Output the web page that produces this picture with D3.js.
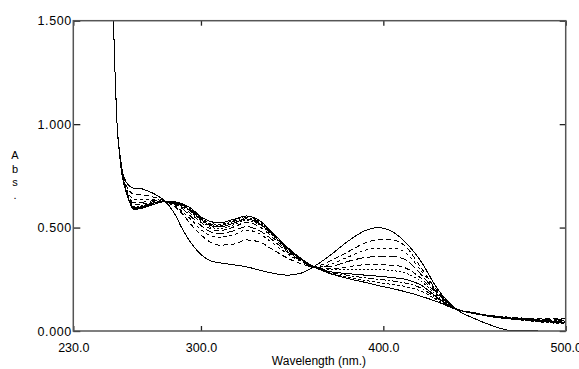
<!DOCTYPE html>
<html>
<head>
<meta charset="utf-8">
<script src="https://cdn.jsdelivr.net/npm/d3@7.9.0/dist/d3.min.js"></script>
<style>
  body { margin: 0; background: #fff; }
  svg { display: block; font-family: "Liberation Sans", Arial, sans-serif; }
</style>
</head>
<body>
<svg width="579" height="369"></svg>
<script>
// wavelength grid (nm) shared by every scan
const waves = [251, 252, 253, 254, 255.5, 257, 259, 261, 263, 266, 270, 275, 280, 285, 290, 295, 300, 305, 310, 318,
               325, 332, 340, 348, 355, 362, 370, 380, 390, 397, 405, 412, 420, 430, 440, 450, 460, 470, 485, 500];

// absorbance of each scan
const scan0 = [1.75,1.50,1.22,1.00,0.86,0.77,0.72,0.70,0.69,0.69,0.68,0.66,0.63,0.575,0.49,0.42,0.37,0.34,0.33,0.32,
               0.31,0.295,0.278,0.27,0.28,0.312,0.36,0.43,0.485,0.50,0.48,0.43,0.345,0.20,0.105,0.06,0.025,0.002,0,0];
const scan1 = [1.75,1.50,1.22,1.00,0.855,0.765,0.705,0.675,0.662,0.66,0.655,0.645,0.628,0.605,0.565,0.51,0.465,0.43,0.415,0.42,
               0.44,0.43,0.39,0.35,0.325,0.31,0.335,0.38,0.425,0.44,0.44,0.41,0.315,0.19,0.108,0.088,0.075,0.066,0.06,0.058];
const scan2 = [1.75,1.50,1.22,1.00,0.853,0.76,0.69,0.655,0.638,0.635,0.635,0.635,0.627,0.61,0.575,0.535,0.49,0.462,0.453,0.465,
               0.488,0.47,0.42,0.37,0.335,0.309,0.32,0.355,0.39,0.40,0.40,0.38,0.30,0.185,0.108,0.087,0.074,0.064,0.055,0.05];
const scan3 = [1.75,1.50,1.22,1.00,0.85,0.755,0.68,0.64,0.62,0.62,0.625,0.63,0.626,0.615,0.59,0.55,0.51,0.48,0.47,0.485,
               0.505,0.485,0.435,0.378,0.339,0.309,0.31,0.335,0.355,0.36,0.36,0.345,0.28,0.18,0.107,0.087,0.073,0.063,0.057,0.055];
const scan4 = [1.75,1.50,1.22,1.00,0.848,0.75,0.675,0.632,0.61,0.61,0.618,0.625,0.626,0.618,0.598,0.563,0.525,0.495,0.485,0.503,
               0.525,0.505,0.447,0.385,0.342,0.309,0.30,0.31,0.32,0.32,0.318,0.305,0.26,0.175,0.107,0.086,0.072,0.062,0.052,0.045];
const scan5 = [1.75,1.50,1.22,1.00,0.846,0.748,0.672,0.627,0.602,0.603,0.612,0.622,0.626,0.62,0.603,0.571,0.535,0.503,0.495,0.514,
               0.535,0.515,0.455,0.39,0.345,0.309,0.295,0.295,0.297,0.296,0.292,0.28,0.245,0.168,0.106,0.086,0.071,0.061,0.054,0.05];
const scan6 = [1.75,1.50,1.22,1.00,0.845,0.745,0.67,0.624,0.597,0.598,0.608,0.62,0.626,0.622,0.607,0.577,0.54,0.51,0.503,0.522,
               0.542,0.52,0.46,0.393,0.346,0.309,0.288,0.278,0.27,0.265,0.258,0.25,0.225,0.16,0.105,0.085,0.07,0.06,0.047,0.04];
const scan7 = [1.75,1.50,1.22,1.00,0.843,0.743,0.67,0.622,0.593,0.595,0.605,0.618,0.626,0.623,0.61,0.582,0.545,0.515,0.51,0.53,
               0.548,0.527,0.465,0.396,0.348,0.309,0.285,0.27,0.257,0.25,0.242,0.232,0.21,0.155,0.105,0.085,0.07,0.059,0.05,0.045];
const scan8 = [1.75,1.50,1.22,1.00,0.842,0.742,0.67,0.62,0.59,0.592,0.602,0.616,0.626,0.624,0.612,0.585,0.55,0.52,0.516,0.535,
               0.553,0.532,0.468,0.398,0.349,0.31,0.282,0.262,0.245,0.235,0.225,0.215,0.195,0.148,0.104,0.084,0.069,0.058,0.044,0.035];
const scan9 = [1.75,1.50,1.22,1.00,0.84,0.74,0.67,0.62,0.588,0.59,0.60,0.615,0.625,0.625,0.615,0.59,0.552,0.53,0.522,0.54,
               0.556,0.535,0.47,0.40,0.35,0.31,0.28,0.255,0.235,0.22,0.205,0.19,0.17,0.14,0.104,0.084,0.068,0.058,0.05,0.04];

const scans = [scan9, scan8, scan7, scan6, scan5, scan4, scan3, scan2, scan1, scan0];

// axis ticks
const xTicks = [230, 300, 400, 500];
const yTicks = [0, 0.5, 1.0, 1.5];

// line style per scan (same order as scans)
const dashes = ["none", "3,2", "6,2,2,2", "none", "2,2", "5,3", "8,3", "3,3", "5,3", "none"];

let svg = d3.select("svg");
let plotLeft = 73.3, plotRight = 565.7, plotTop = 20.7, plotBottom = 331;

let x = d3.scaleLinear().domain([230, 500]).range([plotLeft, plotRight]);
let y = d3.scaleLinear().domain([0, 1.5]).range([plotBottom, plotTop]);

svg.append("clipPath").attr("id", "plot")
    .append("rect")
    .attr("x", plotLeft).attr("y", plotTop)
    .attr("width", plotRight - plotLeft).attr("height", plotBottom - plotTop);

let line = d3.line()
    .x((d, i) => x(waves[i]))
    .y(d => y(d))
    .curve(d3.curveMonotoneX);

svg.append("g")
    .attr("clip-path", "url(#plot)")
    .selectAll("path")
    .data(scans)
    .join("path")
    .attr("d", line)
    .attr("fill", "none")
    .attr("stroke", "#000")
    .attr("stroke-width", 1)
    .attr("stroke-dasharray", (d, i) => dashes[i])
    .attr("shape-rendering", "crispEdges");

// axes: inward ticks on all four sides
function styleAxis(g) {
    g.select(".domain").remove();
    g.selectAll(".tick line").attr("stroke", "#222").attr("stroke-width", 1.3);
    g.selectAll("text").attr("fill", "#000").style("font-size", "12.5px")
        .style("font-family", '"Liberation Sans", Arial, sans-serif');
}

svg.append("g")
    .attr("transform", `translate(0,${plotBottom})`)
    .call(d3.axisBottom(x).tickValues(xTicks).tickSize(-5).tickPadding(12).tickFormat(d3.format(".1f")))
    .call(styleAxis);

svg.append("g")
    .attr("transform", `translate(${plotLeft},0)`)
    .call(d3.axisLeft(y).tickValues(yTicks).tickSize(-7).tickPadding(1.5).tickFormat(d3.format(".3f")))
    .call(styleAxis)
    .selectAll("text").style("letter-spacing", "0.6px");

svg.append("g")
    .attr("transform", `translate(0,${plotTop})`)
    .call(d3.axisTop(x).tickValues(xTicks).tickSize(-5).tickFormat(""))
    .call(styleAxis);

svg.append("g")
    .attr("transform", `translate(${plotRight},0)`)
    .call(d3.axisRight(y).tickValues(yTicks).tickSize(-6).tickFormat(""))
    .call(styleAxis);

// frame
svg.append("rect")
    .attr("x", plotLeft).attr("y", plotTop)
    .attr("width", plotRight - plotLeft).attr("height", plotBottom - plotTop)
    .attr("fill", "none")
    .attr("stroke", "#555")
    .attr("stroke-width", 1.5);

// axis titles
svg.append("text")
    .attr("x", (plotLeft + plotRight) / 2 - 0.5)
    .attr("y", 365)
    .attr("text-anchor", "middle")
    .style("font-size", "12px")
    .text("Wavelength (nm.)");

let absLetters = ["A", "b", "s", "."];
let absY = [159, 173, 186, 199];
svg.append("g").selectAll("text")
    .data(absLetters)
    .join("text")
    .attr("x", 15)
    .attr("y", (d, i) => absY[i])
    .attr("text-anchor", "middle")
    .style("font-size", "11px")
    .text(d => d);
</script>
</body>
</html>
